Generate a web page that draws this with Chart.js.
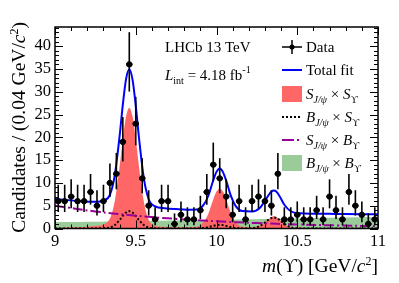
<!DOCTYPE html>
<html>
<head>
<meta charset="utf-8">
<script src="https://cdn.jsdelivr.net/npm/chart.js@4.4.1/dist/chart.umd.min.js"></script>
<style>
  body { margin: 0; background: #fff; }
  #wrap { width: 399px; height: 283px; position: relative; }
</style>
</head>
<body>
<div id="wrap"><canvas id="massChart"></canvas></div>
<script>
// Binned data: m(Upsilon) bin centres (0.04 GeV wide) and candidate counts
const massBins = [9.02, 9.06, 9.10, 9.14, 9.18, 9.22, 9.26, 9.30, 9.34, 9.38,
                  9.42, 9.46, 9.50, 9.54, 9.58, 9.62, 9.66, 9.70, 9.74, 9.78,
                  9.82, 9.86, 9.90, 9.94, 9.98, 10.02, 10.06, 10.10, 10.14, 10.18,
                  10.22, 10.26, 10.30, 10.34, 10.38, 10.42, 10.46, 10.50, 10.54, 10.58,
                  10.62, 10.66, 10.70, 10.74, 10.78, 10.82, 10.86, 10.90, 10.94, 10.98];
const counts = [6, 6, 7, 6, 6, 8, 5, 6, 10, 12,
                19, 36, 23, 11, 5, 2, 6, 6, 1, 3,
                2, 2, 4, 8, 14, 11, 7, 3, 6, 2,
                6, 7, 6, 5, 12, 2, 2, 3, 2, 2,
                4, 2, 7, 4, 2, 8, 5, 3, 1, 2];

// Fit components
const fitMass = [9.00, 9.10, 9.20, 9.26, 9.30, 9.34, 9.37, 9.40, 9.42, 9.44,
                 9.46, 9.48, 9.50, 9.52, 9.55, 9.58, 9.62, 9.68, 9.75, 9.82,
                 9.88, 9.92, 9.95, 9.98, 10.00, 10.02, 10.04, 10.06, 10.09, 10.12,
                 10.16, 10.22, 10.27, 10.30, 10.32, 10.34, 10.355, 10.37, 10.39, 10.42,
                 10.46, 10.52, 10.60, 10.70, 10.80, 10.90, 11.00];
const totalFit = [6.45, 6.17, 5.89, 5.86, 6.12, 7.38, 11.64, 20.25, 27.19, 32.77,
                  34.92, 32.67, 26.97, 19.91, 11.03, 6.41, 4.85, 4.45, 4.26, 4.14,
                  4.15, 5.18, 7.24, 10.59, 12.42, 13.16, 12.37, 10.5, 7.08, 4.85,
                  3.82, 3.74, 4.56, 6.1, 7.19, 8.12, 8.36, 8.1, 7.14, 5.2,
                  3.78, 3.33, 3.25, 3.21, 3.17, 3.15, 3.15];
const sigSig = [0.05, 0.25, 0.4, 0.6, 0.9, 2.2, 6.0, 13.6, 19.7, 24.6,
                26.5, 24.6, 19.7, 13.6, 5.9, 1.9, 0.6, 0.35, 0.3, 0.3,
                0.4, 1.4, 3.3, 6.4, 8.1, 8.8, 8.1, 6.4, 3.3, 1.3,
                0.4, 0.3, 0.65, 1.5, 2.0, 2.55, 2.7, 2.55, 2.0, 0.95,
                0.3, 0.15, 0.1, 0.08, 0.06, 0.05, 0.05];
const bkgSig = [0, 0, 0, 0, 0.1, 0.2, 0.75, 1.85, 2.76, 3.5,
                3.8, 3.5, 2.76, 1.85, 0.75, 0.2, 0.03, 0, 0, 0,
                0, 0.1, 0.3, 0.58, 0.74, 0.8, 0.74, 0.58, 0.3, 0.1,
                0.01, 0.05, 0.57, 1.3, 1.9, 2.3, 2.4, 2.3, 1.9, 1.03,
                0.27, 0.01, 0, 0, 0, 0, 0];
const bgMass = [9.0, 9.25, 9.5, 9.75, 10.0, 10.25, 10.5, 10.75, 11.0];
const sigBkg = [5.0, 3.75, 2.81, 2.11, 1.58, 1.19, 0.89, 0.67, 0.50];
const bkgBkg = [1.4, 1.5, 1.6, 1.75, 1.9, 2.05, 2.2, 2.4, 2.6];

const xTickVals = [9, 9.5, 10, 10.5, 11];
const yTickVals = [0, 5, 10, 15, 20, 25, 30, 35, 40];

const SERIF = '"Liberation Serif", "Times New Roman", "DejaVu Serif", serif';
const BLUE = '#0000ff';
const RED = '#ff6666';
const GREEN = '#99cc99';
const PURPLE = '#990099';
const UPS = '\u03D2';

function pts(xs, ys) {
    return xs.map((x, i) => ({ x: x, y: ys[i] }));
}

// Poisson (Gehrels) 1 sigma intervals for the counts
function poissonUp(n) { return n + Math.sqrt(n + 0.75) + 1; }
function poissonLo(n) {
    if (n === 0) return 0;
    return n * Math.pow(1 - 1 / (9 * n) - 1 / (3 * Math.sqrt(n)), 3);
}

// text made of runs in several fonts (italics, sub/superscripts)
function rm(t, size) { return { t: t, font: (size || 15) + 'px ' + SERIF, dy: 0 }; }
function it(t, size) { return { t: t, font: 'italic ' + (size || 15) + 'px ' + SERIF, dy: 0 }; }
function sub(t, italic) { return { t: t, font: (italic ? 'italic ' : '') + '10px ' + SERIF, dy: 4 }; }
function sup(t, size) { return { t: t, font: (size || 10) + 'px ' + SERIF, dy: -7 }; }

function drawRuns(ctx, runs, x, y, align) {
    let w = 0;
    runs.forEach(r => { ctx.font = r.font; r.w = ctx.measureText(r.t).width; w += r.w; });
    let cx = align === 'right' ? x - w : x;
    ctx.textAlign = 'left';
    ctx.textBaseline = 'alphabetic';
    runs.forEach(r => {
        ctx.font = r.font;
        ctx.fillText(r.t, cx, y + r.dy);
        cx += r.w;
    });
}

// Frame with ROOT style inward ticks on all four sides
const framePlugin = {
    id: 'frame',
    afterDatasetsDraw(chart) {
        const ctx = chart.ctx;
        const a = chart.chartArea;
        const xs = chart.scales.x, ys = chart.scales.y;
        ctx.save();
        ctx.strokeStyle = '#000';
        ctx.lineWidth = 1;
        ctx.beginPath();
        for (let v = 0; v <= 44; v++) {
            const py = Math.round(ys.getPixelForValue(v)) + 0.5;
            const len = v % 5 === 0 ? 8 : 4;
            ctx.moveTo(a.left, py); ctx.lineTo(a.left + len, py);
            ctx.moveTo(a.right, py); ctx.lineTo(a.right - len, py);
        }
        for (let k = 0; k <= 20; k++) {
            const px = Math.round(xs.getPixelForValue(9 + k * 0.1)) + 0.5;
            const len = k % 5 === 0 ? 8 : 4;
            ctx.moveTo(px, a.bottom); ctx.lineTo(px, a.bottom - len);
            ctx.moveTo(px, a.top); ctx.lineTo(px, a.top + len);
        }
        ctx.stroke();
        ctx.lineWidth = 1.5;
        ctx.strokeRect(a.left, a.top, a.right - a.left, a.bottom - a.top);
        ctx.restore();
    }
};

// Error bars for the data points
const errorBarPlugin = {
    id: 'errorBars',
    afterDatasetsDraw(chart) {
        const ctx = chart.ctx;
        const xs = chart.scales.x, ys = chart.scales.y;
        ctx.save();
        ctx.strokeStyle = '#000';
        massBins.forEach((m, i) => {
            const n = counts[i];
            const px = xs.getPixelForValue(m);
            const x0 = xs.getPixelForValue(m - 0.02), x1 = xs.getPixelForValue(m + 0.02);
            const py = ys.getPixelForValue(n);
            ctx.lineWidth = 2;
            ctx.beginPath();
            ctx.moveTo(x0, py); ctx.lineTo(x1, py);
            ctx.stroke();
            ctx.lineWidth = 1.6;
            ctx.beginPath();
            ctx.moveTo(px, ys.getPixelForValue(poissonLo(n)));
            ctx.lineTo(px, ys.getPixelForValue(poissonUp(n)));
            ctx.stroke();
        });
        ctx.restore();
    }
};

// Titles, labels and legend
const textPlugin = {
    id: 'texts',
    afterDraw(chart) {
        const ctx = chart.ctx;
        ctx.save();
        ctx.fillStyle = '#000';

        // y axis title
        ctx.save();
        ctx.translate(25, 22);
        ctx.rotate(-Math.PI / 2);
        drawRuns(ctx, [rm('Candidates / (0.04 GeV/', 19.5), it('c', 19.5), sup('2', 12), rm(')', 19.5)], 0, 0, 'right');
        ctx.restore();

        // x axis title
        drawRuns(ctx, [it('m', 19.5), rm('(', 19.5), rm(UPS, 19.5), rm(') [GeV/', 19.5), it('c', 19.5), sup('2', 12), rm(']', 19.5)], 378, 272, 'right');

        // labels
        drawRuns(ctx, [rm('LHCb 13 TeV')], 165, 52, 'left');
        drawRuns(ctx, [it('L'), sub('int'), rm(' = 4.18 fb'), sup('-1')], 165, 80, 'left');

        // legend
        const sx0 = 282, sx1 = 302, tx = 306;
        const rows = [47, 70, 94, 117, 140, 163];
        ctx.strokeStyle = '#000';
        // Data
        let y = rows[0];
        ctx.lineWidth = 1.5;
        ctx.beginPath();
        ctx.moveTo(sx0, y); ctx.lineTo(sx1, y);
        ctx.moveTo(292, y - 7); ctx.lineTo(292, y + 7);
        ctx.stroke();
        ctx.beginPath(); ctx.arc(292, y, 2.5, 0, Math.PI * 2); ctx.fill();
        drawRuns(ctx, [rm('Data')], tx, y + 5, 'left');
        // Total fit
        y = rows[1];
        ctx.strokeStyle = BLUE; ctx.lineWidth = 2;
        ctx.beginPath(); ctx.moveTo(sx0, y); ctx.lineTo(sx1, y); ctx.stroke();
        drawRuns(ctx, [rm('Total fit')], tx, y + 5, 'left');
        // S x S
        y = rows[2];
        ctx.fillStyle = RED; ctx.fillRect(sx0, y - 8, sx1 - sx0, 16);
        ctx.fillStyle = '#000';
        drawRuns(ctx, [it('S'), sub('J/\u03C8', true), rm(' \u00D7 '), it('S'), sub(UPS, false)], tx, y + 5, 'left');
        // B x S
        y = rows[3];
        ctx.strokeStyle = '#000'; ctx.lineWidth = 2; ctx.setLineDash([2, 2]);
        ctx.beginPath(); ctx.moveTo(sx0, y); ctx.lineTo(sx1, y); ctx.stroke();
        drawRuns(ctx, [it('B'), sub('J/\u03C8', true), rm(' \u00D7 '), it('S'), sub(UPS, false)], tx, y + 5, 'left');
        // S x B
        y = rows[4];
        ctx.strokeStyle = PURPLE; ctx.setLineDash([12, 3, 2, 3]);
        ctx.beginPath(); ctx.moveTo(sx0, y); ctx.lineTo(sx1, y); ctx.stroke();
        ctx.setLineDash([]);
        drawRuns(ctx, [it('S'), sub('J/\u03C8', true), rm(' \u00D7 '), it('B'), sub(UPS, false)], tx, y + 5, 'left');
        // B x B
        y = rows[5];
        ctx.fillStyle = GREEN; ctx.fillRect(sx0, y - 8, sx1 - sx0, 16);
        ctx.fillStyle = '#000';
        drawRuns(ctx, [it('B'), sub('J/\u03C8', true), rm(' \u00D7 '), it('B'), sub(UPS, false)], tx, y + 5, 'left');

        ctx.restore();
    }
};

const ctx = document.getElementById('massChart').getContext('2d');
const massChart = new Chart(ctx, {
    type: 'scatter',
    data: {
        datasets: [
            {
                label: 'Data',
                data: pts(massBins, counts),
                backgroundColor: '#000',
                borderColor: '#000',
                pointRadius: 2.7,
                pointHoverRadius: 2.7,
                showLine: false,
                order: 0
            },
            {
                label: 'Total fit',
                data: pts(fitMass, totalFit),
                showLine: true,
                borderColor: BLUE,
                borderWidth: 2,
                pointRadius: 0,
                cubicInterpolationMode: 'monotone',
                fill: false,
                order: 1
            },
            {
                label: 'S x B',
                data: pts(bgMass, sigBkg),
                showLine: true,
                borderColor: PURPLE,
                borderWidth: 2,
                borderDash: [10, 3, 2, 3],
                pointRadius: 0,
                tension: 0.4,
                fill: false,
                order: 2
            },
            {
                label: 'B x S',
                data: pts(fitMass, bkgSig),
                showLine: true,
                borderColor: '#000',
                borderWidth: 2,
                borderDash: [2, 2],
                pointRadius: 0,
                cubicInterpolationMode: 'monotone',
                fill: false,
                order: 3
            },
            {
                label: 'S x S',
                data: pts(fitMass, sigSig),
                showLine: true,
                borderColor: RED,
                borderWidth: 0,
                backgroundColor: RED,
                pointRadius: 0,
                cubicInterpolationMode: 'monotone',
                fill: 'origin',
                order: 4
            },
            {
                label: 'B x B',
                data: pts(bgMass, bkgBkg),
                showLine: true,
                borderColor: GREEN,
                borderWidth: 0,
                backgroundColor: GREEN,
                pointRadius: 0,
                tension: 0.4,
                fill: 'origin',
                order: 5
            }
        ]
    },
    options: {
        responsive: true,
        maintainAspectRatio: false,
        animation: false,
        events: [],
        layout: { padding: { left: 0, right: 21, top: 27, bottom: 0 } },
        plugins: {
            legend: { display: false },
            tooltip: { enabled: false }
        },
        scales: {
            x: {
                type: 'linear',
                min: 9,
                max: 11,
                grid: { display: false, drawTicks: false },
                border: { display: false },
                ticks: {
                    color: '#000',
                    font: { family: SERIF, size: 16.5 },
                    padding: 3,
                    maxRotation: 0,
                    autoSkip: false,
                    callback: v => String(v)
                },
                afterBuildTicks: s => { s.ticks = xTickVals.map(v => ({ value: v })); },
                afterFit: s => { s.height = 54.5; }
            },
            y: {
                min: 0,
                max: 44.2,
                grid: { display: false, drawTicks: false },
                border: { display: false },
                ticks: {
                    color: '#000',
                    font: { family: SERIF, size: 16.5 },
                    padding: 4
                },
                afterBuildTicks: s => { s.ticks = yTickVals.map(v => ({ value: v })); },
                afterFit: s => { s.width = 55; }
            }
        }
    },
    plugins: [framePlugin, errorBarPlugin, textPlugin]
});
</script>
</body>
</html>
